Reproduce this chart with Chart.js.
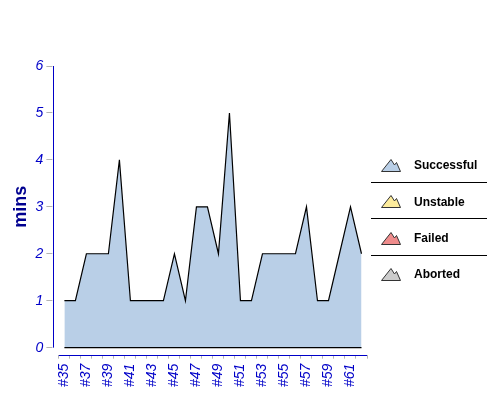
<!DOCTYPE html>
<html lang="en">
<head>
    <meta charset="UTF-8">
    <title>Build duration trend</title>
    <script src="https://cdn.jsdelivr.net/npm/chart.js"></script>
    <style>
        body { margin: 0; background: #fff; }
        #wrap { width: 500px; height: 400px; }
    </style>
</head>
<body>
    <div id="wrap"><canvas id="trend" width="500" height="400"></canvas></div>
    <script>
        // build numbers and duration (minutes)
        const builds = ['#35', '#36', '#37', '#38', '#39', '#40', '#41', '#42', '#43', '#44',
                        '#45', '#46', '#47', '#48', '#49', '#50', '#51', '#52', '#53', '#54',
                        '#55', '#56', '#57', '#58', '#59', '#60', '#61', '#62'];
        const successMins = [1, 1, 2, 2, 2, 4, 1, 1, 1, 1,
                             2, 1, 3, 3, 2, 5, 1, 1, 2, 2,
                             2, 2, 3, 1, 1, 2, 3, 2];
        const yTicks = [0, 1, 2, 3, 4, 5, 6];
        const legendNames = ['Successful', 'Unstable', 'Failed', 'Aborted'];
        const legendColors = ['#b9cfe7', '#fdec9c', '#ef8c8c', '#cccccc'];

        const BLUE = '#0000c8';
        const NAVY = '#000090';
        const FONT = "'Liberation Sans', Arial, sans-serif";

        function mountain(color) {
            const c = document.createElement('canvas');
            c.width = 20; c.height = 13;
            const g = c.getContext('2d');
            g.beginPath();
            g.moveTo(0.5, 12.5);
            g.lineTo(10, 0.5);
            g.lineTo(13.5, 6);
            g.lineTo(15.5, 3.5);
            g.lineTo(19.5, 12.5);
            g.closePath();
            g.fillStyle = color;
            g.fill();
            g.strokeStyle = '#333';
            g.lineWidth = 1;
            g.stroke();
            return c;
        }

        const extras = {
            id: 'extras',
            afterDraw(chart) {
                const {ctx, chartArea: a, scales: {x, y}} = chart;
                const y0 = y.getPixelForValue(0);
                ctx.save();
                // baseline under the area
                ctx.strokeStyle = '#000';
                ctx.lineWidth = 1.2;
                ctx.beginPath();
                ctx.moveTo(x.getPixelForValue(0), y0);
                ctx.lineTo(x.getPixelForValue(builds.length - 1), y0);
                ctx.stroke();
                // offset axis lines
                ctx.strokeStyle = BLUE;
                ctx.lineWidth = 1;
                const ax = Math.round(a.left - 6) + 0.5;
                ctx.beginPath();
                ctx.moveTo(ax, y.getPixelForValue(yTicks[yTicks.length - 1]));
                ctx.lineTo(ax, y0);
                ctx.stroke();
                const ay = Math.round(y0 + 7) + 0.5;
                ctx.beginPath();
                ctx.moveTo(a.left, ay);
                ctx.lineTo(a.right, ay);
                ctx.stroke();
                // legend
                const lx = a.right;
                const rowH = 36.3;
                const top = 166;
                ctx.font = 'bold 12px ' + FONT;
                ctx.textBaseline = 'middle';
                ctx.textAlign = 'left';
                legendNames.forEach((name, i) => {
                    const cy = top + i * rowH;
                    ctx.drawImage(mountain(legendColors[i]), lx + 14, Math.round(cy - 7));
                    ctx.fillStyle = '#000';
                    ctx.fillText(name, lx + 47, cy);
                    if (i < legendNames.length - 1) {
                        const sy = Math.round(cy + rowH / 2 - 2) + 0.5;
                        ctx.strokeStyle = '#000';
                        ctx.beginPath();
                        ctx.moveTo(lx + 4, sy);
                        ctx.lineTo(lx + 120, sy);
                        ctx.stroke();
                    }
                });
                ctx.restore();
            }
        };

        new Chart(document.getElementById('trend'), {
            type: 'line',
            data: {
                labels: builds,
                datasets: [{
                    label: 'Successful',
                    data: successMins,
                    fill: 'origin',
                    backgroundColor: legendColors[0],
                    borderColor: '#000',
                    borderWidth: 1.2,
                    pointRadius: 0,
                    tension: 0
                }]
            },
            options: {
                responsive: false,
                animation: false,
                devicePixelRatio: 1,
                layout: { padding: { left: 10, top: 66, right: 133, bottom: 8 } },
                plugins: { legend: { display: false }, tooltip: { enabled: false } },
                scales: {
                    x: {
                        offset: true,
                        border: { display: false },
                        grid: {
                            offset: true,
                            drawOnChartArea: false,
                            tickLength: 11,
                            tickColor: '#b4b4b4',
                            tickBorderDash: [4, 100],
                            tickBorderDashOffset: -7
                        },
                        ticks: {
                            autoSkip: false,
                            minRotation: 90,
                            maxRotation: 90,
                            padding: 5,
                            color: BLUE,
                            font: { family: FONT, size: 14, style: 'italic' },
                            callback: (v, i) => i % 2 === 0 ? builds[i] : ''
                        }
                    },
                    y: {
                        min: yTicks[0],
                        max: yTicks[yTicks.length - 1],
                        border: { display: false },
                        grid: {
                            drawOnChartArea: false,
                            tickLength: 12.5,
                            tickColor: '#b4b4b4',
                            tickBorderDash: [6, 100]
                        },
                        ticks: {
                            stepSize: 1,
                            padding: 3,
                            color: BLUE,
                            font: { family: FONT, size: 14, style: 'italic' }
                        },
                        title: {
                            display: true,
                            text: 'mins',
                            color: NAVY,
                            padding: 0.5,
                            font: { family: FONT, size: 18, weight: 'bold' }
                        }
                    }
                }
            },
            plugins: [extras]
        });
    </script>
</body>
</html>
